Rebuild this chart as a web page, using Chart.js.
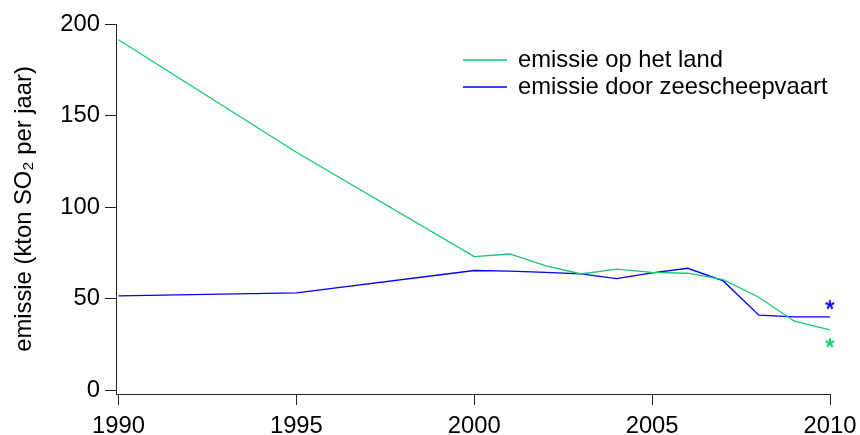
<!DOCTYPE html>
<html>
<head>
<meta charset="utf-8">
<script src="https://cdn.jsdelivr.net/npm/chart.js@4.4.0/dist/chart.umd.min.js"></script>
<style>
html, body { margin: 0; padding: 0; background: #fff; }
</style>
</head>
<body>
<canvas id="myChart" width="860" height="435"></canvas>
<script>
// jaren en emissies (kton SO2 per jaar)
var years = [1990, 1995, 2000, 2001, 2002, 2003, 2004, 2005, 2006, 2007, 2008, 2009, 2010];
var land = [191.4, 130.0, 73.1, 74.5, 68.2, 63.6, 66.2, 64.5, 64.0, 60.5, 50.9, 37.8, 33.1];
var shipping = [51.6, 53.3, 65.5, 65.1, 64.5, 63.6, 61.1, 64.2, 66.7, 59.8, 41.1, 40.2, 40.2];
// doelen (sterretjes)
var targetYear = [2010];
var landTarget = [25.7];
var shippingTarget = [46.5];
var xTicks = [1990, 1995, 2000, 2005, 2010];
var yTicks = [0, 50, 100, 150, 200];
var labels = ['emissie op het land', 'emissie door zeescheepvaart'];

var FONT = '"Liberation Sans", Arial, sans-serif';
var SIZE = 23.8;
var GREEN = 'rgb(20, 200, 110)';
var BLUE = 'rgb(0, 0, 245)';

function pairs(xs, ys) {
  return ys.map(function(v, i) { return { x: xs[i], y: v }; });
}

function starImage(color) {
  var c = document.createElement('canvas');
  c.width = 30; c.height = 30;
  var g = c.getContext('2d');
  g.fillStyle = color;
  g.strokeStyle = color;
  g.lineWidth = 0.6;
  g.font = '24px ' + FONT;
  g.textAlign = 'center';
  g.textBaseline = 'alphabetic';
  g.fillText('*', 15, 15 + 0.5 * 24);
  g.strokeText('*', 15, 15 + 0.5 * 24);
  return c;
}

var cornerLegend = {
  id: 'cornerLegend',
  afterDraw: function(chart) {
    var ctx = chart.ctx;
    ctx.save();
    ctx.font = SIZE + 'px ' + FONT;
    ctx.textBaseline = 'alphabetic';
    ctx.fillStyle = '#000';
    var row = 0;
    chart.data.datasets.forEach(function(ds) {
      if (!ds.inLegend) return;
      var y = 60 + row * 27;
      ctx.strokeStyle = ds.borderColor;
      ctx.lineWidth = 1.3;
      ctx.beginPath();
      ctx.moveTo(463, y);
      ctx.lineTo(507, y);
      ctx.stroke();
      ctx.fillText(ds.label, 518, y + 7);
      row++;
    });
    ctx.restore();
  }
};

var tickFont = { family: FONT, size: SIZE };

var ctx = document.getElementById('myChart');
var myChart = new Chart(ctx, {
  type: 'line',
  data: {
    datasets: [{
      label: labels[0],
      data: pairs(years, land),
      borderColor: GREEN,
      borderWidth: 1.3,
      pointRadius: 0,
      tension: 0,
      inLegend: true
    }, {
      label: labels[1],
      data: pairs(years, shipping),
      borderColor: BLUE,
      borderWidth: 1.3,
      pointRadius: 0,
      tension: 0,
      inLegend: true
    }, {
      label: 'doel land',
      data: pairs(targetYear, landTarget),
      showLine: false,
      pointStyle: starImage(GREEN),
      pointRadius: 8,
      clip: false
    }, {
      label: 'doel zeescheepvaart',
      data: pairs(targetYear, shippingTarget),
      showLine: false,
      pointStyle: starImage(BLUE),
      pointRadius: 8,
      clip: false
    }]
  },
  options: {
    responsive: false,
    animation: false,
    layout: { padding: { left: 0, right: 30, top: 24, bottom: 0 } },
    plugins: {
      legend: { display: false },
      tooltip: { enabled: false }
    },
    scales: {
      x: {
        type: 'linear',
        min: 1989.93,
        max: 2010,
        afterBuildTicks: function(s) { s.ticks = xTicks.map(function(v) { return { value: v }; }); },
        afterFit: function(s) { s.height = 41; s.paddingLeft = 0; s.paddingRight = 0; },
        grid: { drawOnChartArea: false, drawTicks: true, tickLength: 11, color: '#222', lineWidth: 1 },
        border: { color: '#222', width: 1 },
        ticks: {
          font: tickFont, color: '#000', padding: 7, maxRotation: 0, autoSkip: false,
          callback: function(v) { return String(v); }
        }
      },
      y: {
        min: -1.9,
        max: 200,
        afterBuildTicks: function(s) { s.ticks = yTicks.map(function(v) { return { value: v }; }); },
        afterFit: function(s) { s.width = 116; },
        grid: { drawOnChartArea: false, drawTicks: true, tickLength: 11, color: '#222', lineWidth: 1 },
        border: { color: '#222', width: 1 },
        ticks: {
          font: tickFont, color: '#000', padding: 5,
          callback: function(v) { return String(v); }
        },
        title: {
          display: true,
          text: 'emissie (kton SO\u2082 per jaar)',
          font: tickFont,
          color: '#000',
          padding: { top: 10, bottom: 0 }
        }
      }
    }
  },
  plugins: [cornerLegend]
});
</script>
</body>
</html>
